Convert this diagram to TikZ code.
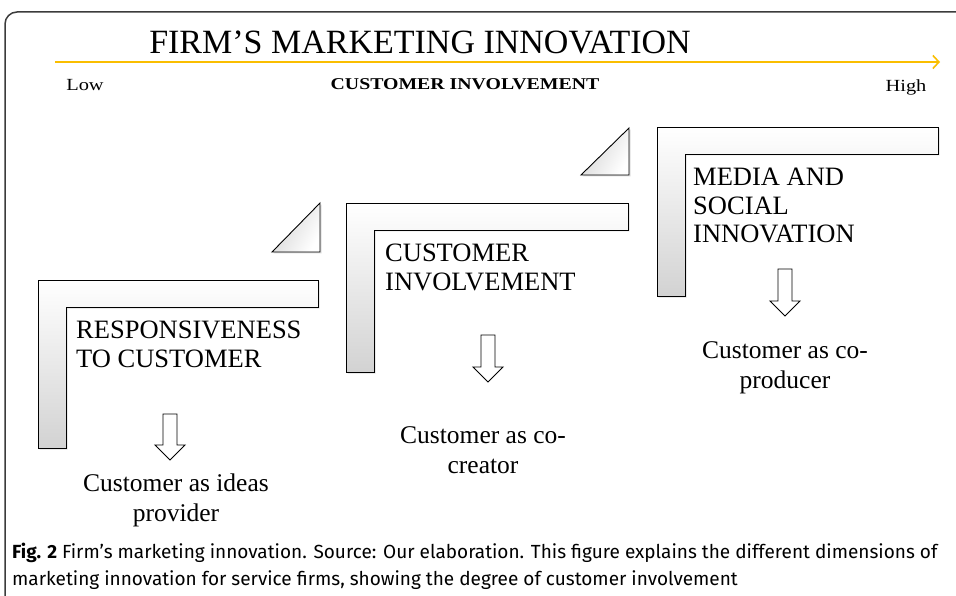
\documentclass[tikz,border=0pt]{standalone}
\usepackage{fontspec}
\setmainfont{Liberation Serif}
\newfontfamily\capfont{Fira Sans}
\usetikzlibrary{arrows.meta,shadows}
\definecolor{gold}{RGB}{250,190,0}
\definecolor{framec}{RGB}{60,60,60}
\tikzset{
  lbar/.style={draw=black,line width=0.9pt,top color=white,bottom color=gray!35,
    drop shadow={opacity=0.25,shadow xshift=1.5pt,shadow yshift=-1.5pt}},
  tribox/.style={draw=black,line width=0.9pt,shading=axis,left color=gray!35,right color=white,shading angle=60,
    drop shadow={opacity=0.25,shadow xshift=1.5pt,shadow yshift=-1.5pt}},
  darr/.style={draw=black,line width=0.9pt,fill=white},
  headtxt/.style={inner sep=0pt,anchor=north west,align=left,font=\fontsize{26.5}{28.6}\selectfont},
  roletxt/.style={inner sep=0pt,anchor=north,align=center,font=\fontsize{25.5}{30}\selectfont},
  axtxt/.style={inner sep=0pt,xscale=1.2,font=\fontsize{17}{20}\selectfont},
}
\newcommand\mylbar[4]{% x y w h
  \path[lbar] (#1,#2) -- ++(#3,0) -- ++(0,27) -- ++(-#3+28,0) -- ++(0,#4-27) -- ++(-28,0) -- cycle;}
\newcommand\mytri[4]{% xl xr yb yt
  \path[tribox] (#1,#3) -- (#2,#3) -- (#2,#4) -- cycle;}
\newcommand\mydarr[3]{% cx top tip
  \path[darr] (#1-7,#2) -- (#1+7,#2) -- (#1+7,#3-15) -- (#1+15,#3-15) -- (#1,#3) -- (#1-15,#3-15) -- (#1-7,#3-15) -- cycle;}
\begin{document}
\begin{tikzpicture}[x=1pt,y=-1pt]
\useasboundingbox (0,0) rectangle (956,596);
\fill[white] (0,0) rectangle (956,596);
\begin{scope}
\clip (0,0) rectangle (956,596);
\draw[framec,line width=1.5pt,rounded corners=12pt] (5,640) -- (5,12) -- (1000,12);
\end{scope}
% title
\node[inner sep=0pt,font=\fontsize{34}{38}\selectfont] (title) at (420,42) {FIRM’S MARKETING INNOVATION};
\coordinate (axs) at (55,62);
\coordinate (axe) at (940,62);
\draw[gold,line width=2.2pt,-{Straight Barb[length=6pt,width=13pt,line width=1.6pt]}] (axs) -- (axe);
\node[axtxt] (low) at (85,85) {Low};
\node[axtxt,font=\fontsize{16.5}{20}\selectfont\bfseries] (ci) at (465,84) {CUSTOMER INVOLVEMENT};
\node[axtxt] (high) at (906,87) {High};
% L shapes and triangles
\mylbar{38}{280}{280}{168}
\mylbar{346}{203}{282}{169}
\mylbar{657}{127}{281}{169}
\mytri{272}{320}{252}{203}
\mytri{581}{629}{175}{128}
% headings
\node[headtxt] (h1) at (76,321) {RESPONSIVENESS\\TO CUSTOMER};
\node[headtxt] (h2) at (385,244) {CUSTOMER\\INVOLVEMENT};
\node[headtxt] (h3) at (693,168) {MEDIA AND\\SOCIAL\\INNOVATION};
% arrows
\mydarr{170}{414}{460}
\mydarr{488}{335}{382}
\mydarr{785}{269}{316}
% roles
\node[roletxt] (r1) at (176,474) {Customer as ideas\\provider};
\node[roletxt] (r2) at (483,426) {Customer as co-\\creator};
\node[roletxt] (r3) at (785,341) {Customer as co-\\producer};
% caption
\node[inner sep=0pt,anchor=north west,align=left,font=\capfont\fontsize{19}{27}\selectfont] (cap) at (12,543)
 {\textbf{Fig. 2} Firm’s marketing innovation. Source: Our elaboration. This figure explains the different dimensions of\\
  marketing innovation for service firms, showing the degree of customer involvement};
\end{tikzpicture}
\end{document}
